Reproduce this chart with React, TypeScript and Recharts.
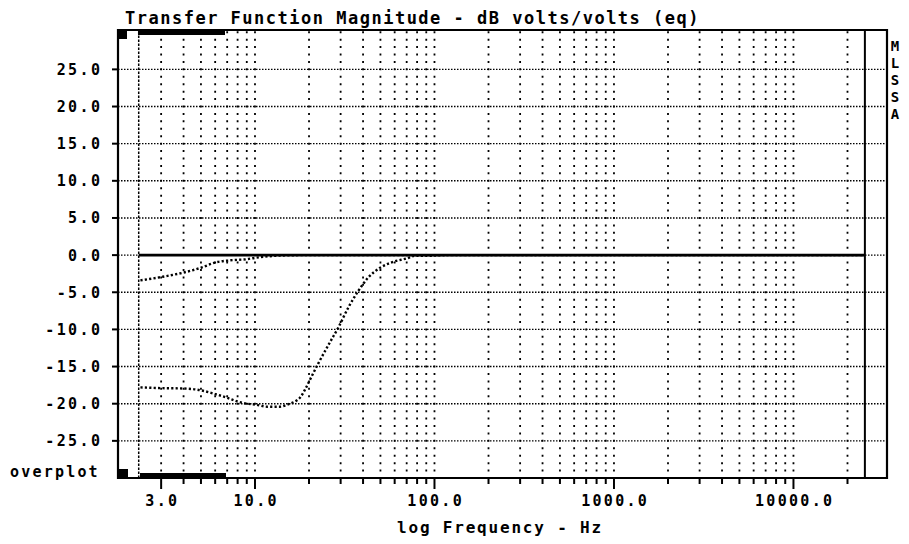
import React from "react";
import {
  ComposedChart,
  Line,
  XAxis,
  YAxis,
  CartesianGrid,
  ReferenceLine,
  ReferenceArea,
} from "recharts";

// axis ranges (log Hz, dB)
const xDomain = [1.725, 33200];
const yDomain = [-30, 30.3];

// vertical grid / x ticks
const gridFreqs = [
  3, 4, 5, 6, 7, 8, 9, 10,
  20, 30, 40, 50, 60, 70, 80, 90, 100,
  200, 300, 400, 500, 600, 700, 800, 900, 1000,
  2000, 3000, 4000, 5000, 6000, 7000, 8000, 9000, 10000,
  20000,
];
const majorFreqs = [3, 10, 100, 1000, 10000];
const dbTicks = [-25, -20, -15, -10, -5, 0, 5, 10, 15, 20, 25];

// sweep start marker and upper limit
const startFreq = 2.25;
const stopFreq = 25000;

// current trace (flat)
const refFreq = [2.25, 25000];
const refDb = [0, 0];

// overplot 1
const upperFreq = [2.3, 3, 4, 5, 6, 7.3, 9, 10, 12, 14, 20, 25000];
const upperDb = [-3.4, -2.95, -2.35, -1.7, -1.0, -0.7, -0.55, -0.37, -0.15, -0.05, 0, 0];

// overplot 2
const lowerFreq = [
  2.3, 3, 4, 5, 6, 7, 8, 9, 10, 11.7, 13.8, 15.6, 16.7, 17.8, 19, 20.7, 22.5,
  26.2, 29.2, 33.2, 37.7, 42.8, 49.8, 59, 70, 78, 90, 120, 25000,
];
const lowerDb = [
  -17.8, -17.9, -17.95, -18.2, -18.7, -19.2, -19.7, -20.0, -20.1, -20.4, -20.4, -20.0,
  -19.7, -19.2, -18.1, -16.3, -14.6, -11.7, -9.7, -7.0, -4.8, -3.0, -1.7, -0.9, -0.45,
  -0.1, -0.1, 0, 0,
];

const rows = (fs: number[], ds: number[]) => fs.map((f, i) => ({ f, db: ds[i] }));

const FONT = "'DejaVu Sans Mono', monospace";

function XTick(props: any) {
  const { x, y, payload } = props;
  const v = payload.value as number;
  const major = majorFreqs.includes(v);
  return (
    <g>
      <line x1={x} x2={x} y1={y} y2={y + (major ? 11 : 6)} stroke="#000" strokeWidth={2} />
      {major && (
        <text
          x={x + 1.2}
          y={y + 27.5}
          textAnchor="middle"
          fontFamily={FONT}
          fontWeight="bold"
          fontSize={15}
          letterSpacing={2.3}
          fill="#000"
        >
          {v.toFixed(1)}
        </text>
      )}
    </g>
  );
}

function YTick(props: any) {
  const { x, y, payload } = props;
  const v = payload.value as number;
  return (
    <g>
      <line x1={x - 6} x2={x} y1={y} y2={y} stroke="#000" strokeWidth={2} />
      <text
        x={x - 15.6}
        y={y + 5.4}
        textAnchor="end"
        fontFamily={FONT}
        fontWeight="bold"
        fontSize={15}
        letterSpacing={2.4}
        fill="#000"
      >
        {v.toFixed(1)}
      </text>
    </g>
  );
}

export default function App() {
  const txt = { fontFamily: FONT, fontWeight: "bold" as const, fill: "#000" };
  return (
    <div style={{ position: "absolute", left: 0, top: 0, width: 909, height: 544, background: "#fff" }}>
      <ComposedChart
        width={909}
        height={544}
        margin={{ top: 30, right: 22, bottom: 26, left: 78 }}
      >
        <CartesianGrid
          horizontal
          vertical={false}
          horizontalValues={dbTicks}
          stroke="#000"
          strokeWidth={1.4}
          strokeDasharray="1.5 1.5"
        />
        <CartesianGrid
          horizontal={false}
          vertical
          verticalValues={gridFreqs}
          stroke="#000"
          strokeWidth={1.8}
          strokeDasharray="2 5.43"
          strokeDashoffset={-1.2}
        />
        <XAxis
          dataKey="f"
          type="number"
          scale="log"
          domain={xDomain}
          allowDataOverflow
          ticks={gridFreqs}
          interval={0}
          height={40}
          axisLine={false}
          tickLine={false}
          tickSize={0}
          tickMargin={0}
          tick={<XTick />}
        />
        <YAxis
          type="number"
          domain={yDomain}
          allowDataOverflow
          ticks={dbTicks}
          interval={0}
          width={40}
          axisLine={false}
          tickLine={false}
          tickSize={0}
          tickMargin={0}
          tick={<YTick />}
        />
        <ReferenceArea
          x1={xDomain[0]}
          x2={xDomain[1]}
          y1={yDomain[0]}
          y2={yDomain[1]}
          fill="none"
          fillOpacity={0}
          stroke="#000"
          strokeWidth={2.2}
        />
        <ReferenceLine x={startFreq} stroke="#000" strokeWidth={1.5} strokeDasharray="2.5 1.5" />
        <ReferenceLine x={stopFreq} stroke="#000" strokeWidth={2} />
        <Line
          data={rows(refFreq, refDb)}
          dataKey="db"
          type="linear"
          stroke="#000"
          strokeWidth={2.6}
          dot={false}
          isAnimationActive={false}
        />
        <Line
          data={rows(upperFreq, upperDb)}
          dataKey="db"
          type="monotone"
          stroke="#000"
          strokeWidth={2.4}
          strokeDasharray="2.2 2.2"
          dot={false}
          isAnimationActive={false}
        />
        <Line
          data={rows(lowerFreq, lowerDb)}
          dataKey="db"
          type="monotone"
          stroke="#000"
          strokeWidth={2.4}
          strokeDasharray="2.2 2.2"
          dot={false}
          isAnimationActive={false}
        />
      </ComposedChart>

      <svg
        width={909}
        height={544}
        style={{ position: "absolute", left: 0, top: 0, pointerEvents: "none" }}
      >
        <text x={125} y={24} fontSize={17} letterSpacing={1.5} {...txt}>
          Transfer Function Magnitude - dB volts/volts (eq)
        </text>
        <text x={500} y={533} fontSize={16} letterSpacing={1.8} textAnchor="middle" {...txt}>
          log Frequency - Hz
        </text>
        <text x={10} y={477} fontSize={15} letterSpacing={2.2} {...txt}>
          overplot
        </text>
        {"MLSSA".split("").map((c, i) => (
          <text key={i} x={895} y={51 + i * 17} fontSize={14} textAnchor="middle" {...txt}>
            {c}
          </text>
        ))}
        <rect x={118} y={30} width={9} height={9} fill="#000" />
        <rect x={118} y={469} width={10} height={9} fill="#000" />
        <rect x={138} y={30} width={87} height={5} fill="#000" />
        <rect x={140} y={473} width={86} height={5} fill="#000" />
      </svg>
    </div>
  );
}
